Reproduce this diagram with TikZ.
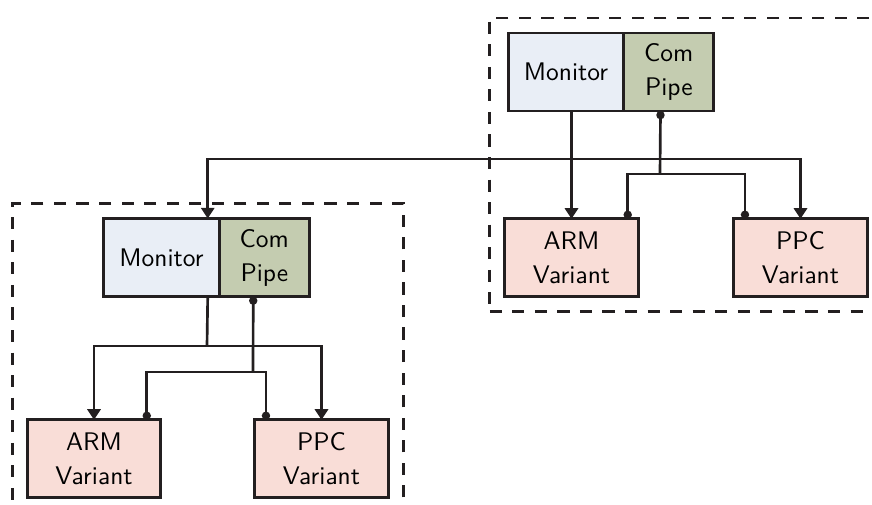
\documentclass[tikz,border=0pt]{standalone}
\usepackage{tikz}
\usetikzlibrary{positioning, arrows.meta, fit}
\definecolor{monfill}{RGB}{233,238,246}
\definecolor{pipefill}{RGB}{196,204,176}
\definecolor{varfill}{RGB}{249,221,215}
\definecolor{inkline}{RGB}{35,31,32}
\tikzset{
  unitbox/.style = {rectangle, draw=inkline, line width=1.2pt, outer sep=0pt, align=center,
                    font=\sffamily\fontsize{10.5}{14}\selectfont},
  monbox/.style  = {unitbox, fill=monfill, minimum width=1.68cm, minimum height=1.13cm},
  pipebox/.style = {unitbox, fill=pipefill, minimum width=1.3cm, minimum height=1.13cm},
  varbox/.style  = {unitbox, fill=varfill, minimum width=1.93cm, minimum height=1.12cm},
  grpbox/.style  = {rectangle, draw=inkline, line width=1.1pt, dash pattern=on 5pt off 4.3pt,
                    inner sep=0.22cm},
  wire/.style      = {line width=1.1pt, draw=inkline},
  linkarrow/.style = {wire, -{Triangle[width=5.4pt,length=4.4pt]}},
  bothways/.style  = {wire, {Triangle[width=5.4pt,length=4.4pt]}-{Triangle[width=5.4pt,length=4.4pt]}},
  pipelink/.style  = {wire, {Circle[length=3.4pt]}-},
  pipefan/.style   = {wire, {Circle[length=3.4pt]}-{Circle[length=3.4pt]}}
}

\begin{document}
\begin{tikzpicture}[x=0.0145cm, y=-0.0145cm]
\useasboundingbox (0,0) rectangle (872,504);
\clip (0,0) rectangle (872,504);

% upper right group
\node[monbox] (monR) at (566,72) {Monitor};
\node[pipebox, right=0pt of monR] (pipeR) {Com\\Pipe};
\node[varbox] (armR) at (571.5,257.5) {ARM\\Variant};
\node[varbox] (ppcR) at (800.5,257.5) {PPC\\Variant};
\node[grpbox, fit=(monR)(pipeR)(armR)(ppcR)] (grpR) {};

% lower left group
\node[monbox] (monL) at (161.5,257.5) {Monitor};
\node[pipebox, right=0pt of monL] (pipeL) {Com\\Pipe};
\node[varbox] (armL) at (94,458.5) {ARM\\Variant};
\node[varbox] (ppcL) at (321.5,458.5) {PPC\\Variant};
\node[grpbox, fit=(monL)(pipeL)(armL)(ppcL)] (grpL) {};

\coordinate (busR) at (660,174);
\coordinate (fanL) at (207,346);
\coordinate (busL) at (253,372);
\coordinate (topline) at (500,159);

\draw[linkarrow] (armR.north |- monR.south) -- (armR.north);
\draw[pipelink] ([xshift=-0.12cm]pipeR.south) -- (busR);
\draw[pipefan] ([xshift=-0.15cm]armR.north east) |- (busR) -| ([xshift=0.16cm]ppcR.north west);

\draw[bothways] (ppcR.north) |- (topline) -| ([xshift=-0.17cm]monL.north east);

\draw[wire] ([xshift=-0.17cm]monL.south east) -- (fanL);
\draw[bothways] (armL.north) |- (fanL) -| (ppcL.north);
\draw[pipelink] ([xshift=-0.16cm]pipeL.south) -- (busL);
\draw[pipefan] ([xshift=-0.2cm]armL.north east) |- (busL) -| ([xshift=0.16cm]ppcL.north west);
\end{tikzpicture}
\end{document}
